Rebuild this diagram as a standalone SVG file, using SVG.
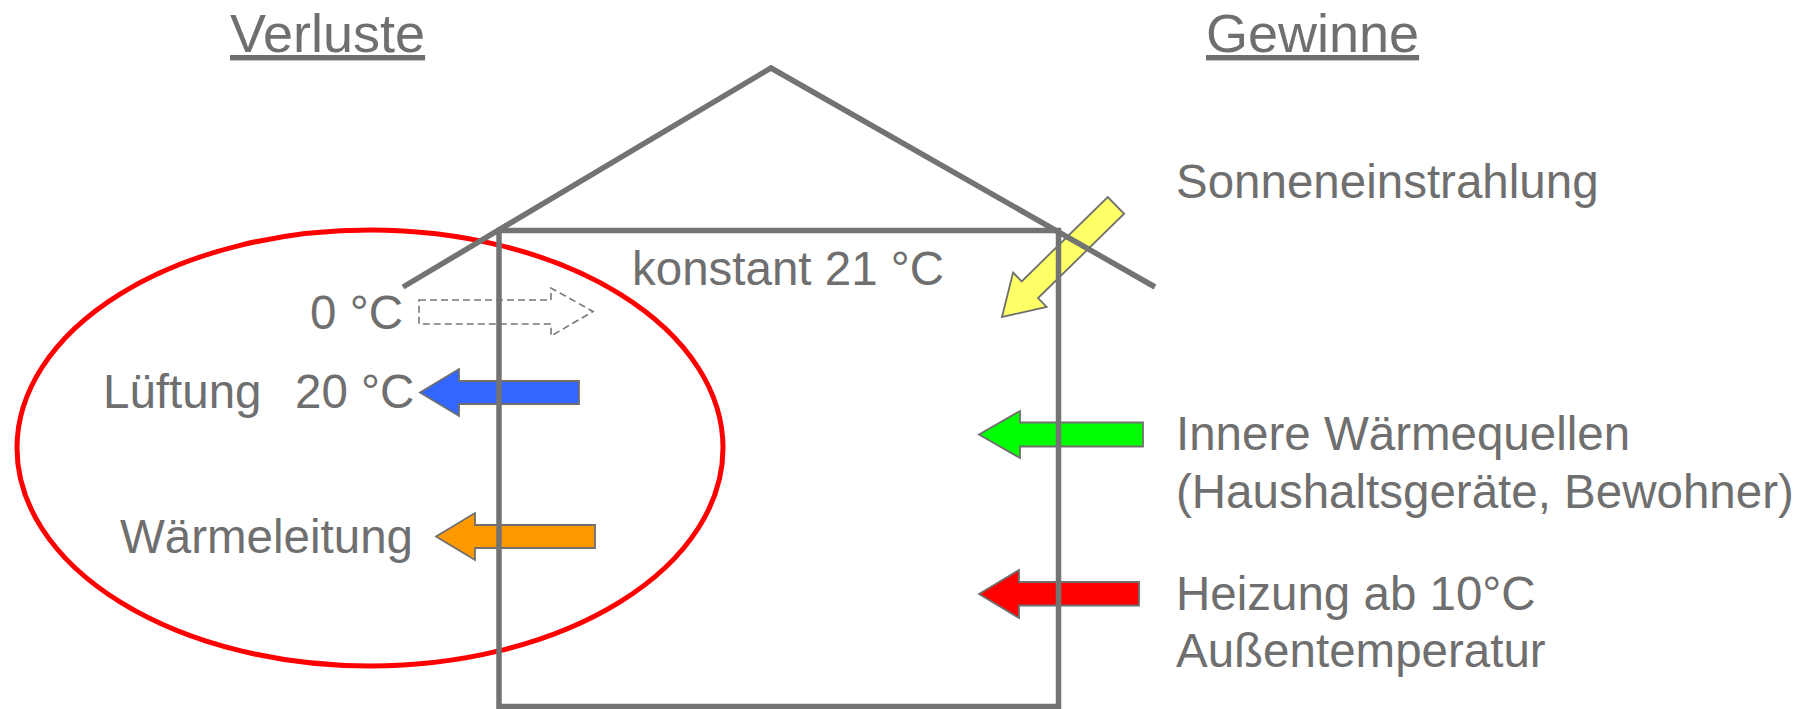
<svg xmlns="http://www.w3.org/2000/svg" width="1812" height="709" viewBox="0 0 1812 709">
  <style>
    text { font-family: "Liberation Sans", Arial, sans-serif; fill: #6f6f6f; }
    .head { font-size: 54px; text-decoration: underline; }
    .lbl { font-size: 47.5px; }
    .wall { fill: none; stroke: #737373; stroke-width: 5.5; stroke-linecap: butt; stroke-linejoin: miter; }
    .flow { stroke: #6f6f6f; stroke-width: 1.8; stroke-linejoin: miter; }
  </style>

  <rect width="1812" height="709" fill="#ffffff"/>

  <!-- loss zone outline -->
  <g id="loss-zone">
    <ellipse cx="370" cy="448" rx="353" ry="218" fill="none" stroke="#ff0000" stroke-width="5"/>
  </g>

  <!-- heat flows -->
  <g id="connectors">
    <!-- dashed cold-air inflow -->
    <path id="flow-cold-air" d="M419,300 L551,300 L551,288 L593,311.5 L551,336 L551,324 L419,324 Z" fill="none" stroke="#777777" stroke-width="1.6" stroke-dasharray="7,4"/>
    <!-- ventilation loss -->
    <path id="flow-ventilation" class="flow" fill="#3366ff" d="M420,392.5 L459,369 L459,381 L579,381 L579,404 L459,404 L459,416 Z"/>
    <!-- conduction loss -->
    <path id="flow-conduction" class="flow" fill="#ff9900" d="M436,536.5 L475,513 L475,525 L595,525 L595,548 L475,548 L475,560 Z"/>
    <!-- internal sources -->
    <path id="flow-internal" class="flow" fill="#00ff00" d="M979,434.5 L1020,411 L1020,422.5 L1143,422.5 L1143,446.5 L1020,446.5 L1020,458 Z"/>
    <!-- heating -->
    <path id="flow-heating" class="flow" fill="#ff0000" d="M979,594 L1019,570 L1019,582 L1139,582 L1139,605.5 L1019,605.5 L1019,618 Z"/>
    <!-- solar gain, diagonal -->
    <path id="flow-solar" class="flow" fill="#ffff66" transform="translate(1002,317) rotate(-44.4)" d="M0,0 L39,-24 L39,-11.7 L159.5,-11.7 L159.5,11.7 L39,11.7 L39,24 Z"/>
  </g>

  <!-- building -->
  <g id="house">
    <polyline class="wall" points="403,287 771,68 1155,287"/>
    <polyline class="wall" points="499,711 499,230.5 1058.5,230.5 1058.5,711"/>
    <line class="wall" x1="499" y1="706.5" x2="1058.5" y2="706.5"/>
  </g>

  <g id="title-losses"><text class="head" x="230" y="52">Verluste</text></g>
  <g id="title-gains"><text class="head" x="1206" y="52">Gewinne</text></g>

  <g id="label-inside"><text class="lbl" x="632" y="285">konstant 21 °C</text></g>
  <g id="label-outside"><text class="lbl" x="403" y="329" text-anchor="end">0 °C</text></g>
  <g id="label-ventilation"><text class="lbl" y="408"><tspan x="103">Lüftung</tspan><tspan x="295">20 °C</tspan></text></g>
  <g id="label-conduction"><text class="lbl" x="413" y="553" text-anchor="end">Wärmeleitung</text></g>

  <g id="label-solar"><text class="lbl" x="1176" y="198">Sonneneinstrahlung</text></g>
  <g id="label-internal">
    <text class="lbl" x="1176" y="450">Innere Wärmequellen</text>
    <text class="lbl" x="1176" y="508">(Haushaltsgeräte, Bewohner)</text>
  </g>
  <g id="label-heating">
    <text class="lbl" x="1176" y="610">Heizung ab 10°C</text>
    <text class="lbl" x="1176" y="667">Außentemperatur</text>
  </g>
</svg>
